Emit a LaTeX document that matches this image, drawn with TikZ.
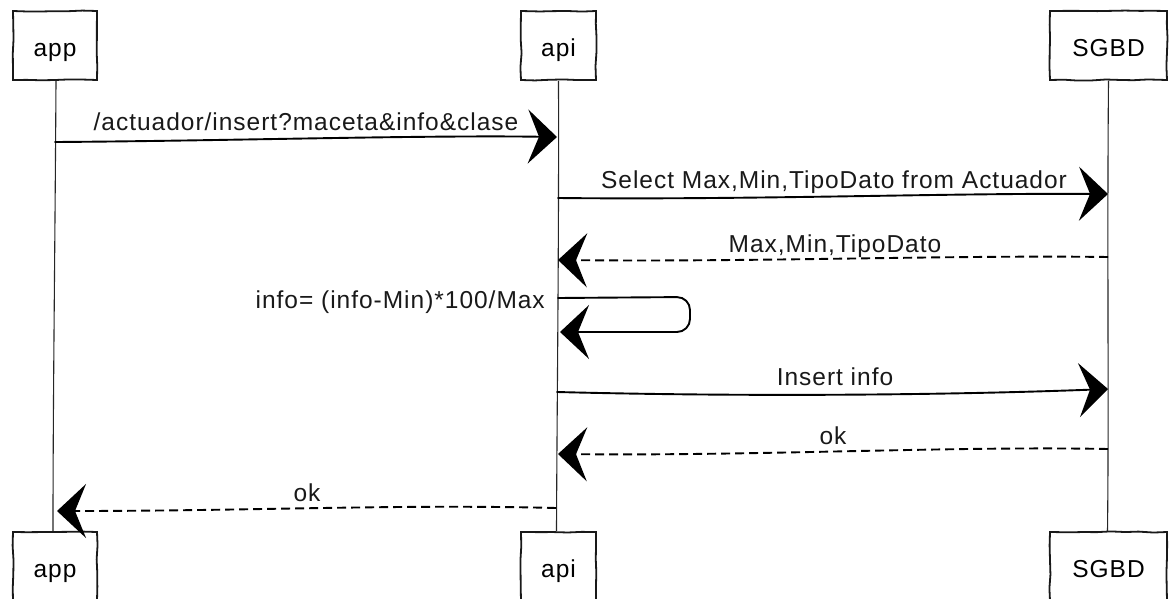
\documentclass[tikz,border=0pt]{standalone}
\usepackage{fontspec}
\setmainfont{Liberation Sans}[LetterSpace=4]
\usetikzlibrary{arrows.meta,decorations.pathmorphing}
\begin{document}
\begin{tikzpicture}[x=1pt,y=-1pt,
  font=\fontsize{24.5}{29}\selectfont,
  actor/.style={draw=black!90, line width=1.8pt, fill=white, minimum height=69pt,
    inner sep=0pt, text height=27pt, text depth=5pt,
    decorate, decoration={random steps, segment length=14pt, amplitude=0.6pt}},
  lifeline/.style={draw=black!85, line width=1.1pt},
  msg/.style={draw=black, line width=1.9pt, line cap=round,
    -{Stealth[length=29pt, width=54pt, inset=11pt]}},
  reply/.style={msg, dash pattern=on 9pt off 5pt, line cap=butt},
  lbl/.style={inner sep=0pt, anchor=base, text=black!90}]
\pgfmathsetseed{7}
\useasboundingbox (0,0) rectangle (1173,599);

% participants, top and bottom
\node[actor, minimum width=84pt]  (appT) at (55,45.5)    {app};
\node[actor, minimum width=75pt]  (apiT) at (558.5,45.5) {api};
\node[actor, minimum width=117pt] (dbT)  at (1108.5,45.5) {SGBD};
\node[actor, minimum width=84pt]  (appB) at (55,566.5)    {app};
\node[actor, minimum width=75pt]  (apiB) at (558.5,566.5) {api};
\node[actor, minimum width=117pt] (dbB)  at (1108.5,566.5) {SGBD};

% lifelines
\draw[lifeline] ([xshift=1pt]appT.south) .. controls (55,250) and (53,400) .. ([xshift=-2pt]appB.north);
\draw[lifeline] (apiT.south) .. controls (559,250) and (557,400) .. ([xshift=-2pt]apiB.north);
\draw[lifeline] (dbT.south) .. controls (1107,250) and (1109,400) .. ([xshift=-1pt]dbB.north);

% anchor points on the lifelines
\coordinate (a1) at (55,142);    \coordinate (b1) at (557,137);
\coordinate (b2) at (558,198);   \coordinate (c2) at (1108,194);
\coordinate (c3) at (1108,257);  \coordinate (b3) at (558,260);
\coordinate (b4) at (558,298);   \coordinate (b4e) at (560,332);
\coordinate (b5) at (557,392);   \coordinate (c5) at (1108,389);
\coordinate (c6) at (1108,449);  \coordinate (b6) at (558,454);
\coordinate (b7) at (556,508);   \coordinate (a7) at (57,511);

% messages
\draw[msg] (a1) .. controls (220,141) and (420,135) .. (b1);
\node[lbl] (l1) at (306,131) {/actuador/insert?maceta\&info\&clase};

\draw[msg] (b2) .. controls (750,200) and (950,193) .. (c2);
\node[lbl] (l2) at (834,189) {Select Max,Min,TipoDato from Actuador};

\draw[reply] (c3) .. controls (950,255) and (760,262) .. (b3);
\node[lbl] (l3) at (835,252) {Max,Min,TipoDato};

\draw[msg, rounded corners=13pt] (b4) -- (690,297) -- (690,332) -- (b4e);
\node[lbl, anchor=base east] (l4) at (545,308) {info= (info-Min)*100/Max};

\draw[msg] (b5) .. controls (750,397) and (950,395) .. (c5);
\node[lbl] (l5) at (835,385) {Insert info};

\draw[reply] (c6) .. controls (950,446) and (760,456) .. (b6);
\node[lbl] (l6) at (833,444) {ok};

\draw[reply] (b7) .. controls (400,504) and (250,511) .. (a7);
\node[lbl] (l7) at (307,501) {ok};
\end{tikzpicture}
\end{document}
